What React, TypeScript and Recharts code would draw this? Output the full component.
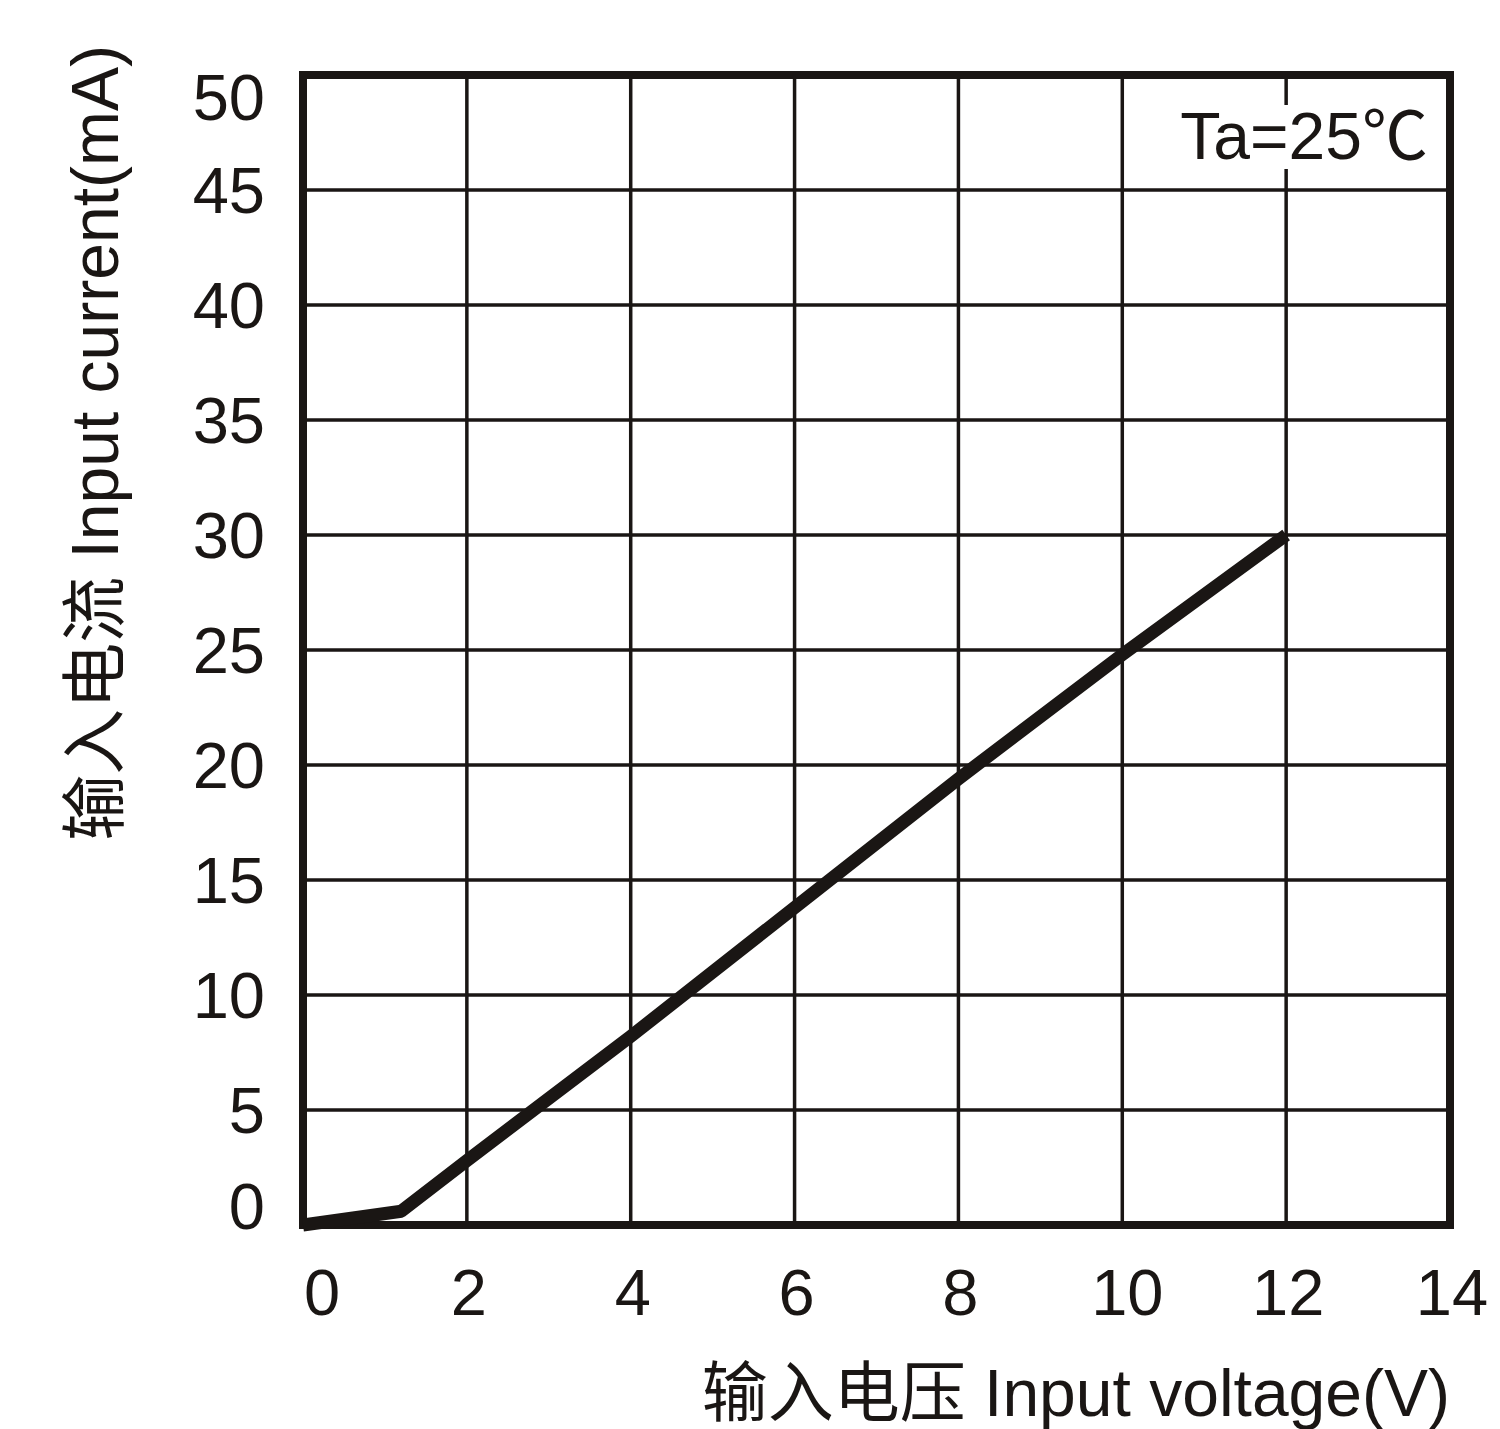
import React from 'react';
import { LineChart, Line, XAxis, YAxis, CartesianGrid, ReferenceArea } from 'recharts';

// input voltage (V) vs input current (mA), Ta = 25°C
const voltage = [0, 1.2, 2, 4, 6, 8, 10, 12];
const current = [0, 0.6, 2.8, 8.2, 13.8, 19.4, 24.8, 30];

const xTicks = [0, 2, 4, 6, 8, 10, 12, 14];
const yTicks = [0, 5, 10, 15, 20, 25, 30, 35, 40, 45, 50];

const xTitle = '输入电压 Input voltage(V)';
const yTitle = '输入电流 Input current(mA)';
const note = 'Ta=25℃';

const data = voltage.map((v, i) => ({ v, i: current[i] }));

const FONT = "'Liberation Sans', Arial, 'Noto Sans CJK SC', sans-serif";
const INK = '#1a1614';

const XTick = (props: any) => {
  const { x, y, payload } = props;
  const dx = payload.value === 0 ? 19 : payload.value === 10 ? 5 : 2;
  return (
    <text x={x + dx} y={y} dy={82} textAnchor="middle" fontSize={65} fontFamily={FONT} fill={INK}>
      {payload.value}
    </text>
  );
};

const YTick = (props: any) => {
  const { y, payload } = props;
  const dy = payload.value === 0 ? -19 : payload.value === 50 ? 22 : 0;
  return (
    <text x={265} y={y + dy} dy={23} textAnchor="end" fontSize={65} fontFamily={FONT} fill={INK}>
      {payload.value}
    </text>
  );
};

const XTitle = (props: any) => {
  const vb = props.viewBox;
  return (
    <text x={vb.x + vb.width} y={vb.y + 191} textAnchor="end" fontSize={66} fontFamily={FONT} fill={INK}>
      {xTitle}
    </text>
  );
};

const YTitle = (props: any) => {
  const vb = props.viewBox;
  const x = 118;
  const y = vb.y - 30;
  return (
    <text x={x} y={y} transform={`rotate(-90 ${x} ${y})`} textAnchor="end" fontSize={66} fontFamily={FONT} fill={INK}>
      {yTitle}
    </text>
  );
};

const Note = (props: any) => {
  const vb = props.viewBox;
  const right = vb.x + vb.width - 22;
  return (
    <g>
      <rect x={right - 262} y={vb.y + 30} width={268} height={64} fill="#fff" />
      <text x={right} y={vb.y + 84} textAnchor="end" fontSize={66} fontFamily={FONT} fill={INK}>
        {note}
      </text>
    </g>
  );
};

export default function App() {
  return (
    <div style={{ position: 'absolute', left: 0, top: 0, width: 1500, height: 1429, background: '#fff', overflow: 'hidden' }}>
      <LineChart width={1500} height={1429} data={data} margin={{ top: 75, right: 50, left: 0, bottom: 0 }}>
        <CartesianGrid stroke={INK} strokeWidth={3.5} horizontal vertical />
        <XAxis
          dataKey="v"
          type="number"
          domain={[0, 14]}
          ticks={xTicks}
          height={204}
          axisLine={false}
          tickLine={false}
          tick={<XTick />}
          label={{ content: <XTitle /> }}
        />
        <YAxis
          dataKey="i"
          type="number"
          domain={[0, 50]}
          ticks={yTicks}
          width={303}
          axisLine={false}
          tickLine={false}
          tick={<YTick />}
          label={{ content: <YTitle /> }}
        />
        <ReferenceArea
          x1={0}
          x2={14}
          y1={0}
          y2={50}
          fill="none"
          fillOpacity={0}
          stroke={INK}
          strokeWidth={8}
          label={{ content: <Note /> }}
        />
        <Line
          type="linear"
          dataKey="i"
          stroke={INK}
          strokeWidth={13}
          strokeLinejoin="round"
          strokeLinecap="butt"
          dot={false}
          activeDot={false}
          isAnimationActive={false}
        />
      </LineChart>
    </div>
  );
}
